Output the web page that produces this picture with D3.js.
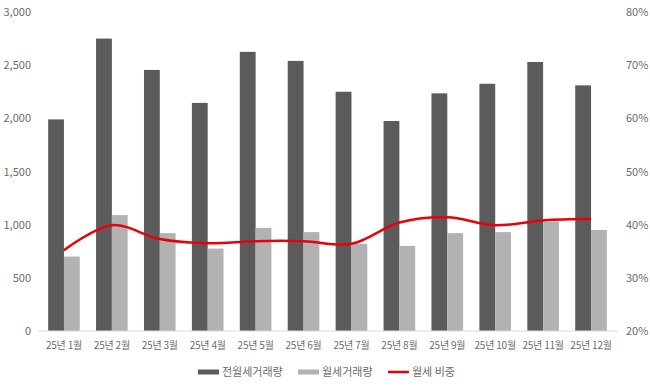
<!DOCTYPE html>
<html>
<head>
<meta charset="utf-8">
<script src="https://cdn.jsdelivr.net/npm/d3@7"></script>
<style>
  body { margin: 0; background: #fff; }
  text { font-family: "Noto Sans CJK KR", "Noto Sans", sans-serif; }
</style>
</head>
<body>
<div id="chart"></div>
<script>
// months on the x axis
const months = ["25년 1월", "25년 2월", "25년 3월", "25년 4월", "25년 5월", "25년 6월",
                "25년 7월", "25년 8월", "25년 9월", "25년 10월", "25년 11월", "25년 12월"];
// 전월세거래량 (dark bars)
const totalDeals = [1990, 2750, 2455, 2145, 2625, 2540, 2250, 1975, 2235, 2325, 2530, 2310];
// 월세거래량 (light bars)
const monthlyDeals = [700, 1090, 920, 775, 970, 930, 820, 800, 920, 930, 1030, 950];
// 월세 비중 (%)
const monthlyShare = [35.2, 39.9, 37.3, 36.5, 36.9, 36.9, 36.4, 40.4, 41.4, 39.9, 40.8, 41.1];
const leftTicks = [0, 500, 1000, 1500, 2000, 2500, 3000];
const rightTicks = [20, 30, 40, 50, 60, 70, 80];
const seriesNames = ["전월세거래량", "월세거래량", "월세 비중"];

const CHART = {
    width: 650,
    height: 390,
    left: 40,
    right: 615,
    top: 12,
    bottom: 331,
    colors: { dark: "#5b5b5b", light: "#b2b2b2", line: "#e8000b", text: "#6b6b6b", axis: "#d9d9d9" }
};

const svg = d3.select("#chart")
    .append("svg")
    .attr("width", CHART.width)
    .attr("height", CHART.height);

const x = d3.scaleBand()
    .domain(months)
    .range([CHART.left, CHART.right])
    .paddingInner(0.34)
    .paddingOuter(0.17);

const xSub = d3.scaleBand()
    .domain(["total", "monthly"])
    .range([0, x.bandwidth()]);

const yLeft = d3.scaleLinear()
    .domain([0, 3000])
    .range([CHART.bottom, CHART.top]);

const yRight = d3.scaleLinear()
    .domain([20, 80])
    .range([CHART.bottom, CHART.top]);

// bars
const groups = svg.append("g")
    .selectAll("g")
    .data(months)
    .join("g")
    .attr("transform", d => `translate(${x(d)},0)`);

groups.append("rect")
    .attr("x", xSub("total"))
    .attr("width", xSub.bandwidth())
    .attr("y", (d, i) => yLeft(totalDeals[i]))
    .attr("height", (d, i) => CHART.bottom - yLeft(totalDeals[i]))
    .attr("fill", CHART.colors.dark);

groups.append("rect")
    .attr("x", xSub("monthly"))
    .attr("width", xSub.bandwidth())
    .attr("y", (d, i) => yLeft(monthlyDeals[i]))
    .attr("height", (d, i) => CHART.bottom - yLeft(monthlyDeals[i]))
    .attr("fill", CHART.colors.light);

// x axis
const xAxis = svg.append("g")
    .attr("transform", `translate(0,${CHART.bottom})`)
    .call(d3.axisBottom(x).tickSize(0).tickPadding(11));
xAxis.select(".domain").attr("stroke", CHART.colors.axis).attr("d", `M${CHART.left - 2},0H${CHART.right + 3}`);
xAxis.selectAll("text")
    .attr("fill", CHART.colors.text)
    .style("font-size", "10px")
    .style("letter-spacing", "-0.2px");

// left axis
const leftAxis = svg.append("g")
    .attr("transform", `translate(${CHART.left - 6},0)`)
    .call(d3.axisLeft(yLeft).tickValues(leftTicks).tickFormat(d3.format(",")).tickSize(0));
leftAxis.select(".domain").remove();
leftAxis.selectAll("text")
    .attr("fill", CHART.colors.text)
    .style("font-size", "11px");

// right axis
const rightAxis = svg.append("g")
    .attr("transform", `translate(${CHART.right + 8},0)`)
    .call(d3.axisRight(yRight).tickValues(rightTicks).tickFormat(d => d + "%").tickSize(0));
rightAxis.select(".domain").remove();
rightAxis.selectAll("text")
    .attr("fill", CHART.colors.text)
    .style("font-size", "11px");

// share line
const line = d3.line()
    .x((d, i) => x(months[i]) + x.bandwidth() / 2)
    .y(d => yRight(d))
    .curve(d3.curveCatmullRom.alpha(0.5));

svg.append("path")
    .datum(monthlyShare)
    .attr("d", line)
    .attr("fill", "none")
    .attr("stroke", CHART.colors.line)
    .attr("stroke-width", 2.5);

// legend
const legend = svg.append("g").attr("transform", "translate(0,372)");
const legendItems = [
    { name: seriesNames[0], x: 198, color: CHART.colors.dark, h: 5 },
    { name: seriesNames[1], x: 298, color: CHART.colors.light, h: 5 },
    { name: seriesNames[2], x: 388, color: CHART.colors.line, h: 2.5 }
];
legendItems.forEach(item => {
    legend.append("rect")
        .attr("x", item.x)
        .attr("y", -item.h / 2)
        .attr("width", 21)
        .attr("height", item.h)
        .attr("fill", item.color);
    legend.append("text")
        .attr("x", item.x + 24)
        .attr("y", 0)
        .attr("dy", "0.35em")
        .attr("fill", CHART.colors.text)
        .style("font-size", "11px")
        .text(item.name);
});
</script>
</body>
</html>
